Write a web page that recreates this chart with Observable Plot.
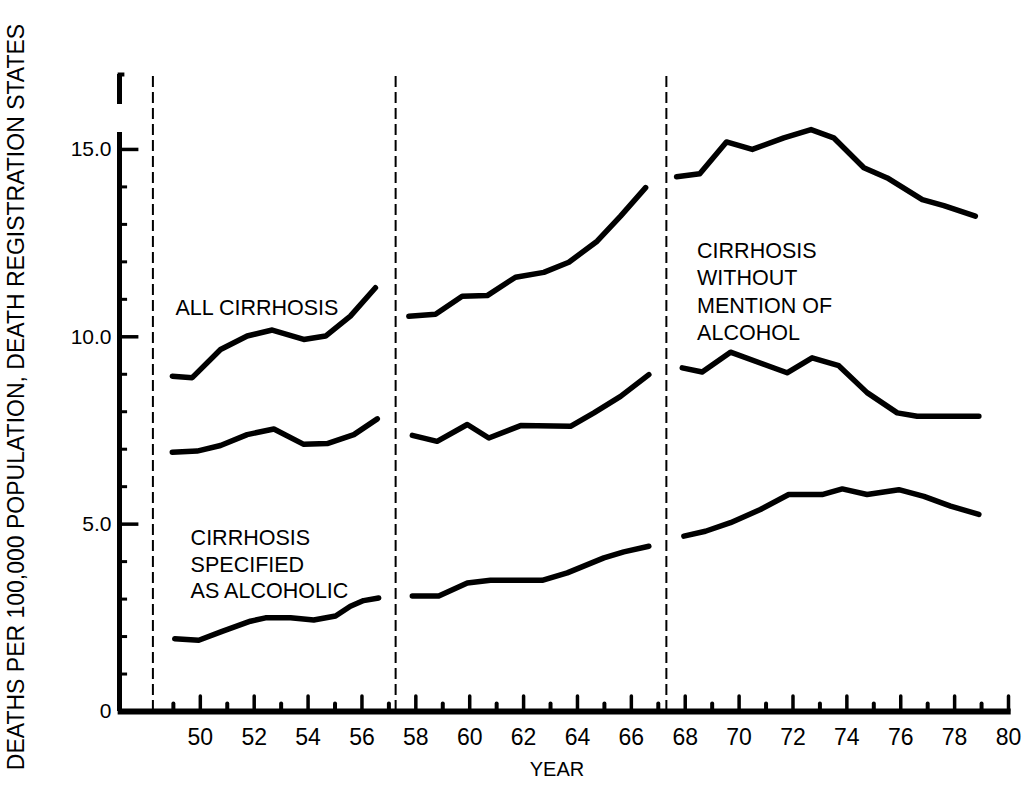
<!DOCTYPE html>
<html>
<head>
<meta charset="utf-8">
<script src="https://cdn.jsdelivr.net/npm/d3@7"></script>
<script src="https://cdn.jsdelivr.net/npm/@observablehq/plot@0.6"></script>
<style>
  html, body { margin: 0; padding: 0; background: #fff; }
  #chart svg { display: block; }
</style>
</head>
<body>
<div id="chart"></div>
<script>
// ---- Data (year, deaths per 100,000) ----
// ICD revision periods
const revisionBreaks = [48.24, 57.25, 67.3];

// 1949–1957
const allYears1 = [48.96, 49.70, 50.75, 51.74, 52.67, 53.84, 54.65, 55.57, 56.50];
const allRates1 = [8.95, 8.91, 9.66, 10.02, 10.18, 9.93, 10.02, 10.55, 11.31];
const woYears1  = [48.96, 49.88, 50.75, 51.74, 52.73, 53.84, 54.71, 55.70, 56.57];
const woRates1  = [6.92, 6.95, 7.10, 7.39, 7.54, 7.13, 7.15, 7.39, 7.81];
const alcYears1 = [49.05, 49.94, 50.81, 51.86, 52.42, 53.35, 54.21, 55.02, 55.57, 56.06, 56.62];
const alcRates1 = [1.94, 1.90, 2.14, 2.41, 2.50, 2.50, 2.44, 2.55, 2.81, 2.96, 3.03];

// 1958–1967
const allYears2 = [57.74, 58.73, 59.72, 60.65, 61.70, 62.75, 63.68, 64.73, 65.60, 66.53];
const allRates2 = [10.55, 10.60, 11.08, 11.10, 11.59, 11.72, 11.99, 12.55, 13.22, 13.98];
const woYears2  = [57.87, 58.79, 59.91, 60.71, 61.89, 63.74, 64.61, 65.60, 66.65];
const woRates2  = [7.37, 7.21, 7.66, 7.30, 7.63, 7.61, 7.97, 8.41, 8.99];
const alcYears2 = [57.87, 58.85, 59.91, 60.77, 62.69, 63.62, 64.98, 65.72, 66.65];
const alcRates2 = [3.08, 3.08, 3.43, 3.50, 3.50, 3.70, 4.10, 4.26, 4.41];

// 1968–1978
const allYears3 = [67.68, 68.54, 69.53, 70.49, 71.66, 72.67, 73.51, 74.63, 75.50, 76.80, 77.60, 78.77];
const allRates3 = [14.27, 14.35, 15.20, 15.00, 15.31, 15.53, 15.31, 14.51, 14.24, 13.66, 13.50, 13.22];
const woYears3  = [67.89, 68.63, 69.68, 71.78, 72.71, 73.70, 74.75, 75.87, 76.61, 78.90];
const woRates3  = [9.17, 9.06, 9.59, 9.04, 9.44, 9.23, 8.51, 7.97, 7.88, 7.88];
const alcYears3 = [67.95, 68.75, 69.68, 70.79, 71.84, 73.08, 73.83, 74.75, 75.93, 76.86, 77.85, 78.90];
const alcRates3 = [4.68, 4.81, 5.04, 5.39, 5.79, 5.79, 5.94, 5.79, 5.92, 5.74, 5.48, 5.26];

// Axis ticks and labels
const majorYearTicks = [50, 52, 54, 56, 58, 60, 62, 64, 66, 68, 70, 72, 74, 76, 78, 80];
const minorYearTicks = [49, 51, 53, 55, 57, 59, 61, 63, 65, 67, 69, 71, 73, 75, 77, 79];
const majorRateTicks = [0, 5, 10, 15];
const rateTickLabels = ["0", "5.0", "10.0", "15.0"];
const minorRateTicks = [1, 2, 3, 4, 6, 7, 8, 9, 11, 12, 13, 14];

const yTitle = "DEATHS PER 100,000 POPULATION, DEATH REGISTRATION STATES";
const xTitle = "YEAR";
const labelAll = "ALL CIRRHOSIS";
const labelAlc = "CIRRHOSIS\nSPECIFIED\nAS ALCOHOLIC";
const labelWo = "CIRRHOSIS\nWITHOUT\nMENTION OF\nALCOHOL";

// ---- Build rows ----
function zip(key, years, rates) {
  return years.map((y, i) => ({key, year: y, rate: rates[i]}));
}
const rows = [
  ...zip("all-1", allYears1, allRates1), ...zip("wo-1", woYears1, woRates1), ...zip("alc-1", alcYears1, alcRates1),
  ...zip("all-2", allYears2, allRates2), ...zip("wo-2", woYears2, woRates2), ...zip("alc-2", alcYears2, alcRates2),
  ...zip("all-3", allYears3, allRates3), ...zip("wo-3", woYears3, woRates3), ...zip("alc-3", alcYears3, alcRates3)
];

const font = "'Liberation Sans', Arial, Helvetica, sans-serif";
const xMin = 47;

const chart = Plot.plot({
  width: 1026,
  height: 791,
  marginLeft: 119,
  marginRight: 18,
  marginTop: 74,
  marginBottom: 80,
  x: {domain: [xMin, 80], label: null},
  y: {domain: [0, 17], label: null},
  style: {fontFamily: font, color: "black", background: "white", overflow: "visible"},
  marks: [
    // revision dividers
    Plot.ruleX(revisionBreaks, {y1: 0, y2: 17, stroke: "black", strokeWidth: 2, strokeDasharray: "11,5"}),
    // axis lines
    Plot.ruleX([xMin], {y1: 0, y2: 15.45, stroke: "black", strokeWidth: 5}),
    Plot.ruleX([xMin], {y1: 16.2, y2: 17, stroke: "black", strokeWidth: 5}),
    Plot.ruleY([17], {x1: 46.95, x2: 47.2, stroke: "black", strokeWidth: 4}),
    Plot.ruleY([0], {x1: 46.95, x2: 80.1, stroke: "black", strokeWidth: 6}),
    // x ticks (inward, pointing up)
    Plot.ruleX(majorYearTicks, {y1: 0, y2: 0.4, stroke: "black", strokeWidth: 3.5, strokeLinecap: "round"}),
    Plot.ruleX(minorYearTicks, {y1: 0, y2: 0.2, stroke: "black", strokeWidth: 4, strokeLinecap: "round"}),
    Plot.axisX(majorYearTicks, {tickSize: 0, tickPadding: 17, fontSize: 23, label: null, tickFormat: d => String(d)}),
    // y ticks (inward, pointing right)
    Plot.ruleY(majorRateTicks.filter(d => d > 0), {x1: xMin, x2: 47.72, stroke: "black", strokeWidth: 3.5}),
    Plot.ruleY(minorRateTicks, {x1: xMin, x2: 47.3, stroke: "black", strokeWidth: 3}),
    Plot.axisY(majorRateTicks, {tickSize: 0, tickPadding: 8, fontSize: 21, label: null,
      tickFormat: d => rateTickLabels[majorRateTicks.indexOf(d)]}),
    // series
    Plot.line(rows, {x: "year", y: "rate", z: "key", stroke: "black", strokeWidth: 5.5,
      strokeLinecap: "round", strokeLinejoin: "round", curve: "linear"}),
    // annotations
    Plot.text([labelAll], {x: 49.08, y: 11.0, text: d => d, textAnchor: "start", lineAnchor: "top", fontSize: 21.5}),
    Plot.text([labelAlc], {x: 49.64, y: 4.96, text: d => d, textAnchor: "start", lineAnchor: "top", fontSize: 21.5, lineHeight: 1.25}),
    Plot.text([labelWo], {x: 68.44, y: 12.62, text: d => d, textAnchor: "start", lineAnchor: "top", fontSize: 21.5, lineHeight: 1.27}),
    // axis titles
    Plot.text([yTitle], {frameAnchor: "left", textAnchor: "middle", rotate: -90, dx: -103, dy: 4, text: d => d, fontSize: 23}),
    Plot.text([xTitle], {frameAnchor: "bottom", textAnchor: "middle", dx: -7, dy: 64, text: d => d, fontSize: 20})
  ]
});

document.getElementById("chart").appendChild(chart);
</script>
</body>
</html>
